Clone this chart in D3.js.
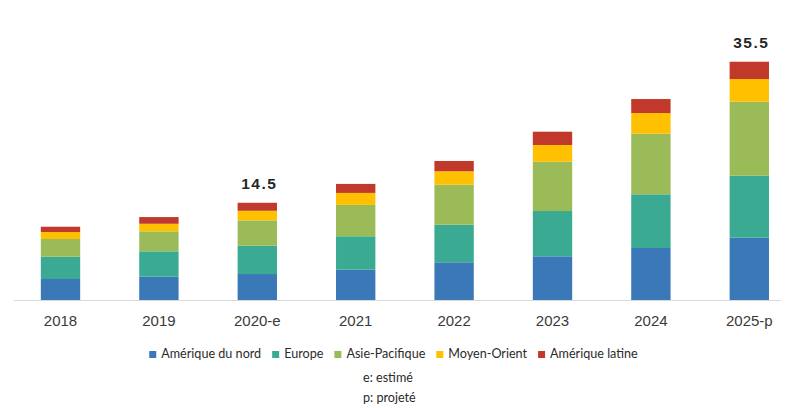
<!DOCTYPE html>
<html>
<head>
<meta charset="utf-8">
<script src="https://cdn.jsdelivr.net/npm/d3@7"></script>
<style>
  body { margin: 0; background: #fff; }
  svg { display: block; }
  .tick text { font-family: "Liberation Sans", Arial, sans-serif; font-size: 15px; fill: #3a3a3a; }
  .legend text, .note { font-family: Lato, "Open Sans", sans-serif; font-size: 12.6px; fill: #2b2b2b; }
  .total { font-family: "Liberation Sans", Arial, sans-serif; font-size: 15.5px; font-weight: bold; fill: #262626; letter-spacing: 1.5px; }
</style>
</head>
<body>
<div id="chart"></div>
<script>
var width = 786,
    height = 408;

// years and regional values
var years = ["2018", "2019", "2020-e", "2021", "2022", "2023", "2024", "2025-p"];
var regions = ["Amérique du nord", "Europe", "Asie-Pacifique", "Moyen-Orient", "Amérique latine"];
var colors = ["#3b78b8", "#3aab92", "#9bbb59", "#ffc000", "#c0392b"];

var ameriqueNord = [3.13, 3.47, 3.87, 4.52, 5.62, 6.51, 7.75, 9.28];
var europe       = [3.32, 3.78, 4.22, 4.98, 5.60, 6.75, 8.00, 9.24];
var asiePacifique = [2.64, 2.98, 3.78, 4.67, 5.96, 7.35, 9.03, 11.03];
var moyenOrient  = [1.04, 1.13, 1.43, 1.79, 2.00, 2.49, 3.08, 3.38];
var ameriqueLatine = [0.79, 1.00, 1.19, 1.34, 1.54, 1.98, 2.09, 2.58];

// totals written above two bars
var labelYears = ["2020-e", "2025-p"];
var labelValues = ["14.5", "35.5"];

var table = years.map(function (yr, i) {
    return {
        year: yr,
        "Amérique du nord": ameriqueNord[i],
        "Europe": europe[i],
        "Asie-Pacifique": asiePacifique[i],
        "Moyen-Orient": moyenOrient[i],
        "Amérique latine": ameriqueLatine[i]
    };
});

var svg = d3.select("#chart").append("svg")
    .attr("width", width)
    .attr("height", height);

var x = d3.scaleBand()
    .domain(years)
    .range([11.3, 798.5])
    .paddingInner(0.6)
    .paddingOuter(0.3);

var y = d3.scaleLinear()
    .domain([0, 40])
    .range([300, 31.6]);

var color = d3.scaleOrdinal()
    .domain(regions)
    .range(colors);

var stacked = d3.stack().keys(regions)(table);

// baseline
svg.append("line")
    .attr("x1", 14).attr("x2", 781)
    .attr("y1", 300.5).attr("y2", 300.5)
    .attr("stroke", "#d9d9d9")
    .attr("stroke-width", 1.2);

svg.append("g")
    .selectAll("g")
    .data(stacked)
    .enter().append("g")
    .attr("fill", function (d) { return color(d.key); })
    .selectAll("rect")
    .data(function (d) { return d; })
    .enter().append("rect")
    .attr("x", function (d) { return x(d.data.year); })
    .attr("y", function (d) { return y(d[1]); })
    .attr("height", function (d) { return y(d[0]) - y(d[1]); })
    .attr("width", x.bandwidth());

var xAxis = svg.append("g")
    .attr("transform", "translate(0,301)")
    .call(d3.axisBottom(x).tickSize(0).tickPadding(14));
xAxis.select(".domain").remove();

// totals
var lastStack = stacked[stacked.length - 1];
svg.append("g")
    .selectAll("text")
    .data(labelYears)
    .enter().append("text")
    .attr("class", "total")
    .attr("text-anchor", "middle")
    .attr("x", function (d) { return x(d) + x.bandwidth() / 2 + 2; })
    .attr("y", function (d) {
        var i = years.indexOf(d);
        return y(lastStack[i][1]) - 14;
    })
    .text(function (d, i) { return labelValues[i]; });

// legend
var legend = svg.append("g").attr("class", "legend");
var items = legend.selectAll("g")
    .data(regions)
    .enter().append("g");
items.append("rect")
    .attr("width", 7).attr("height", 7)
    .attr("y", -7)
    .attr("fill", function (d) { return color(d); });
items.append("text")
    .attr("x", 12)
    .text(function (d) { return d; });

var pos = 0;
items.each(function () {
    var g = d3.select(this);
    g.attr("transform", "translate(" + pos + ",0)");
    pos += 12 + g.select("text").node().getComputedTextLength() + 11;
});
pos -= 11;
legend.attr("transform", "translate(" + (393.5 - pos / 2) + ",358)");

svg.append("text").attr("class", "note")
    .attr("x", 363).attr("y", 382)
    .text("e: estimé");
svg.append("text").attr("class", "note")
    .attr("x", 363).attr("y", 402)
    .text("p: projeté");
</script>
</body>
</html>
